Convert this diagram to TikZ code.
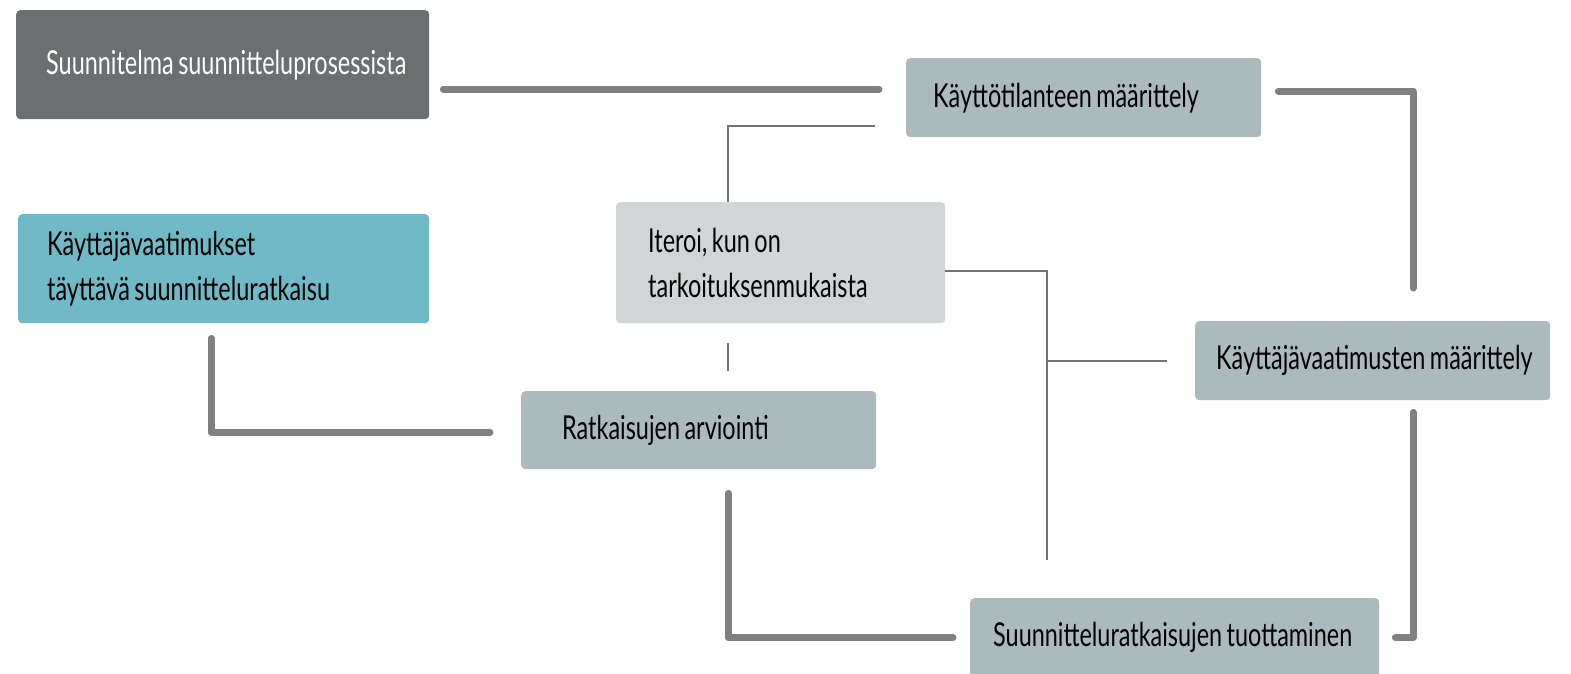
\documentclass[tikz,border=0pt]{standalone}
\usepackage{fontspec}
\setmainfont{Lato}[FakeStretch=0.71]
\usetikzlibrary{calc}
\definecolor{plangray}{HTML}{6B6F70}
\definecolor{resultteal}{HTML}{6FBAC6}
\definecolor{phasegray}{HTML}{ABBABD}
\definecolor{itergray}{HTML}{D1D5D6}
\definecolor{linegray}{HTML}{808080}
\tikzset{
  x=1pt,
  y=-1pt,
}
\tikzstyle{box}=[rectangle,rounded corners=4pt,anchor=north west,align=left,
  inner ysep=0pt,font=\fontsize{33}{44.7}\selectfont,
  execute at begin node={\fontdimen2\font=4.5pt\spaceskip=4.5pt\xspaceskip=5pt
    \hyphenpenalty=10000\hbadness=10000\hfuzz=50pt}]
\tikzstyle{phase}=[box,fill=phasegray,minimum width=355pt,minimum height=79pt]
\tikzstyle{mainline}=[line width=7pt,linegray,line cap=round,line join=round]
\tikzstyle{iterline}=[line width=2pt,linegray!90!black]

\begin{document}
\begin{tikzpicture}
    \useasboundingbox (0,0) rectangle (1571,673);
    % boxes
    \node[box,fill=plangray,text=white,minimum width=413pt,minimum height=109pt,
      inner xsep=30pt,text width=353pt] (plan) at (16,10)
      {Suunnitelma~suunnitteluprosessista};
    \node[phase,inner xsep=27pt,text width=301pt] (kaytto) at (906,58)
      {Käyttötilanteen~määrittely};
    \node[box,fill=resultteal,minimum width=411pt,minimum height=109pt,
      inner xsep=29pt,text width=353pt] (result) at (18,214)
      {Käyttäjävaatimukset\\täyttävä~suunnitteluratkaisu};
    \node[box,fill=itergray,minimum width=329pt,minimum height=121pt,
      inner xsep=32pt,text width=265pt] (iter) at (616,202)
      {Iteroi, kun on\\tarkoituksenmukaista};
    \node[phase,inner xsep=21pt,text width=313pt] (vaat) at (1195,321)
      {Käyttäjävaatimusten~määrittely};
    \node[phase,minimum height=78pt,inner xsep=41pt,text width=273pt] (ratk) at (521,391)
      {Ratkaisujen~arviointi};
    \node[phase,minimum width=409pt,inner xsep=23pt,text width=363pt] (tuot) at (970,598)
      {Suunnitteluratkaisujen~tuottaminen};
    % main cycle
    \draw[mainline] ($(plan.east)+(14,24.5)$) -- ($(kaytto.west)+(-27,-8.5)$);
    \draw[mainline] ($(kaytto.east)+(17,-6.5)$) -| ($(vaat.north)+(40.5,-33)$);
    \draw[mainline] ($(vaat.south)+(40.5,12)$) |- ($(tuot.east)+(16,0)$);
    \draw[mainline] ($(tuot.west)+(-17,0)$) -| ($(ratk.south)+(29.5,24)$);
    \draw[mainline] ($(ratk.west)+(-31,2)$) -| ($(result.south)+(-12.5,15)$);
    % iteration links
    \draw[iterline] ($(kaytto.south west)+(-31,-11)$) -| ($(iter.north)+(-52.5,0)$);
    \draw[iterline] ($(iter.south)+(-52.5,20)$) -- ($(ratk.north)+(29.5,-20)$);
    \coordinate (loopend) at ($(tuot.north)+(-127.5,-38)$);
    \draw[iterline] ($(iter.east)+(0,8.5)$) -| (loopend);
    \draw[iterline] ($(vaat.west)+(-28,0)$) -- (loopend |- vaat.west);
\end{tikzpicture}
\end{document}
